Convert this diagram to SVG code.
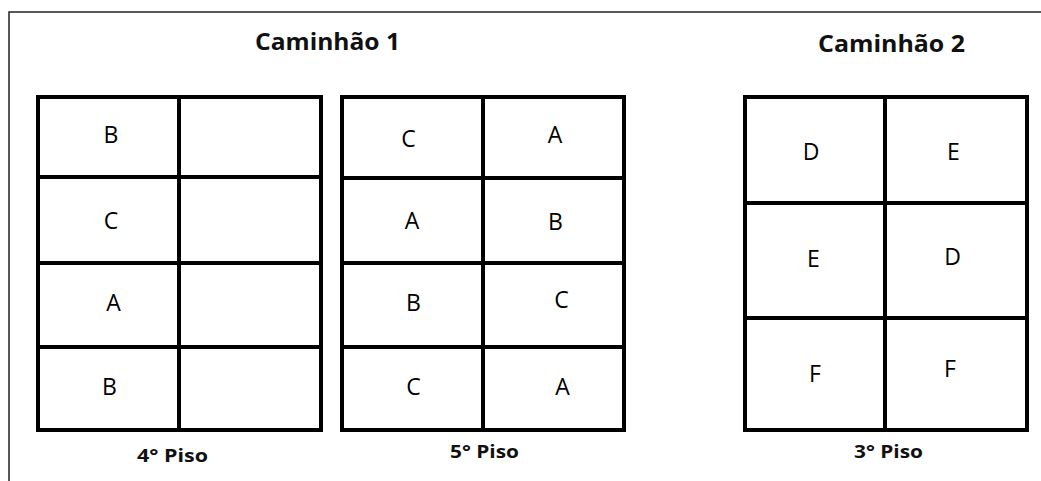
<svg xmlns="http://www.w3.org/2000/svg" width="1041" height="481" viewBox="0 0 1041 481">
<style>
.frame{fill:none;stroke:#222;stroke-width:1.5}
.grid{fill:none;stroke:#000;stroke-width:4}
.cell{font-family:"Open Sans","Liberation Sans",sans-serif;font-size:23px;fill:#000;text-anchor:middle}
.title{font-family:"Open Sans","Liberation Sans",sans-serif;font-size:23px;font-weight:bold;fill:#111}
.floor{font-family:"Open Sans","Liberation Sans",sans-serif;font-size:18px;font-weight:bold;fill:#111}
</style>
<rect width="1041" height="481" fill="#fff"/>
<g id="frame">
<path class="frame" d="M9,481 V12 H1041"/>
</g>
<g id="titles">
<text class="title" x="255" y="50" textLength="145" lengthAdjust="spacingAndGlyphs">Caminhão 1</text>
<text class="title" x="818" y="52" textLength="147" lengthAdjust="spacingAndGlyphs">Caminhão 2</text>
</g>
<g id="piso4">
<rect class="grid" x="38" y="97" width="283" height="333"/>
<path class="grid" d="M179,97 V430 M38,177 H321 M38,263 H321 M38,347 H321"/>
<text class="cell" x="111" y="143">B</text>
<text class="cell" x="111" y="229">C</text>
<text class="cell" x="113.5" y="311">A</text>
<text class="cell" x="109.5" y="395">B</text>
<text class="floor" x="137" y="462" textLength="71" lengthAdjust="spacingAndGlyphs">4° Piso</text>
</g>
<g id="piso5">
<rect class="grid" x="342" y="97" width="282" height="333"/>
<path class="grid" d="M483,97 V430 M342,178 H624 M342,263 H624 M342,347 H624"/>
<text class="cell" x="408.5" y="147">C</text>
<text class="cell" x="555" y="143">A</text>
<text class="cell" x="412" y="229">A</text>
<text class="cell" x="555.5" y="230">B</text>
<text class="cell" x="413.5" y="311">B</text>
<text class="cell" x="561.5" y="308">C</text>
<text class="cell" x="413.5" y="395">C</text>
<text class="cell" x="562.5" y="395">A</text>
<text class="floor" x="450" y="458" textLength="69" lengthAdjust="spacingAndGlyphs">5° Piso</text>
</g>
<g id="piso3">
<rect class="grid" x="745" y="97" width="282" height="333"/>
<path class="grid" d="M885,97 V432 M745,203 H1027 M745,318 H1027"/>
<text class="cell" x="811" y="160">D</text>
<text class="cell" x="953.5" y="160">E</text>
<text class="cell" x="813.5" y="267">E</text>
<text class="cell" x="952.5" y="265">D</text>
<text class="cell" x="815" y="382">F</text>
<text class="cell" x="950" y="377">F</text>
<text class="floor" x="854" y="458" textLength="69" lengthAdjust="spacingAndGlyphs">3° Piso</text>
</g>
</svg>
